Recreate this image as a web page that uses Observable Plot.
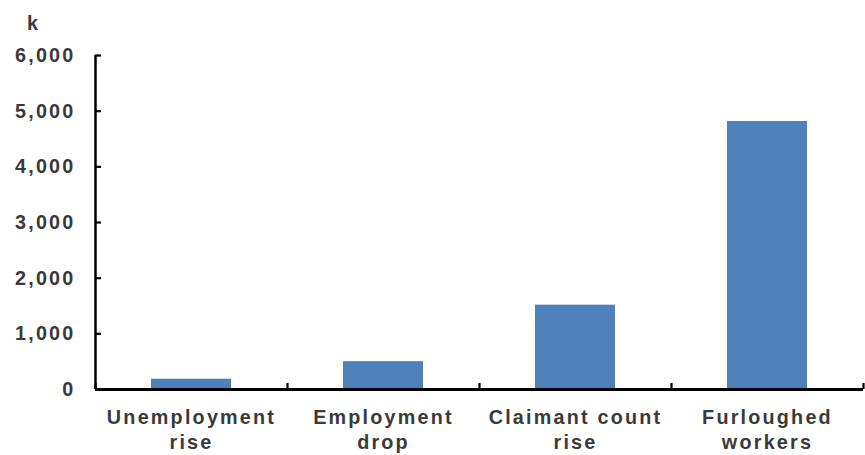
<!DOCTYPE html>
<html>
<head>
<meta charset="utf-8">
<script src="https://cdn.jsdelivr.net/npm/d3@7"></script>
<script src="https://cdn.jsdelivr.net/npm/@observablehq/plot@0.6"></script>
<style>
  html, body { margin: 0; padding: 0; background: #fff; }
  #chart svg text { letter-spacing: 2.2px; }
</style>
</head>
<body>
<div id="chart"></div>
<script>
const categories = ["Unemployment rise", "Employment drop", "Claimant count rise", "Furloughed workers"];
const tickLabels = ["Unemployment\nrise", "Employment\ndrop", "Claimant count\nrise", "Furloughed\nworkers"];
const values = [185, 500, 1515, 4815];
const yTicks = [0, 1000, 2000, 3000, 4000, 5000, 6000];
const unitLabel = "k";

const data = categories.map((c, i) => ({category: c, value: values[i]}));

const W = 865, H = 455, mL = 95, mR = 2, mT = 55, mB = 66;
const band = (W - mL - mR) / categories.length;
const textColor = "#3a3a3a";

const chart = Plot.plot({
  width: W,
  height: H,
  marginLeft: mL,
  marginRight: mR,
  marginTop: mT,
  marginBottom: mB,
  style: {fontFamily: "'Liberation Sans', Arial, sans-serif", fontSize: "19.8px", fontWeight: "bold", color: textColor, background: "#fff"},
  x: {type: "band", domain: categories, padding: 0, axis: null, label: null},
  y: {domain: [0, 6000], axis: null, label: null},
  marks: [
    Plot.barY(data, {x: "category", y: "value", fill: "#4F81BD", insetLeft: 56, insetRight: 56}),
    // y tick labels
    Plot.axisY({ticks: yTicks, tickSize: 0, tickPadding: 20, label: null, tickFormat: d3.format(","), fill: textColor, fontWeight: "bold"}),
    // y ticks pointing inward
    Plot.axisY({ticks: yTicks, tickSize: 6, dx: 6, text: null, label: null, stroke: "#000", strokeWidth: 2.2}),
    // y axis line
    Plot.ruleX([categories[0]], {y1: 0, y2: 6000, dx: -band / 2, stroke: "#000", strokeWidth: 2.5}),
    // baseline
    Plot.ruleY([0], {stroke: "#000", strokeWidth: 2.8}),
    // category boundary ticks
    Plot.axisX({ticks: categories, tickSize: -6, dx: -band / 2, text: null, label: null, stroke: "#000", strokeWidth: 2.2}),
    Plot.axisX({ticks: [categories[categories.length - 1]], tickSize: -6, dx: band / 2, text: null, label: null, stroke: "#000", strokeWidth: 2.2}),
    // category labels
    Plot.axisX({ticks: categories, tickSize: 0, tickPadding: 17, lineHeight: 1.27, label: null,
      tickFormat: (d) => tickLabels[categories.indexOf(d)], fill: textColor, fontWeight: "bold"}),
    // unit label
    Plot.text([unitLabel], {frameAnchor: "top-left", dx: -62, dy: -40, text: d => d, fill: textColor, fontWeight: "bold", textAnchor: "middle"})
  ]
});
document.getElementById("chart").appendChild(chart);
</script>
</body>
</html>
